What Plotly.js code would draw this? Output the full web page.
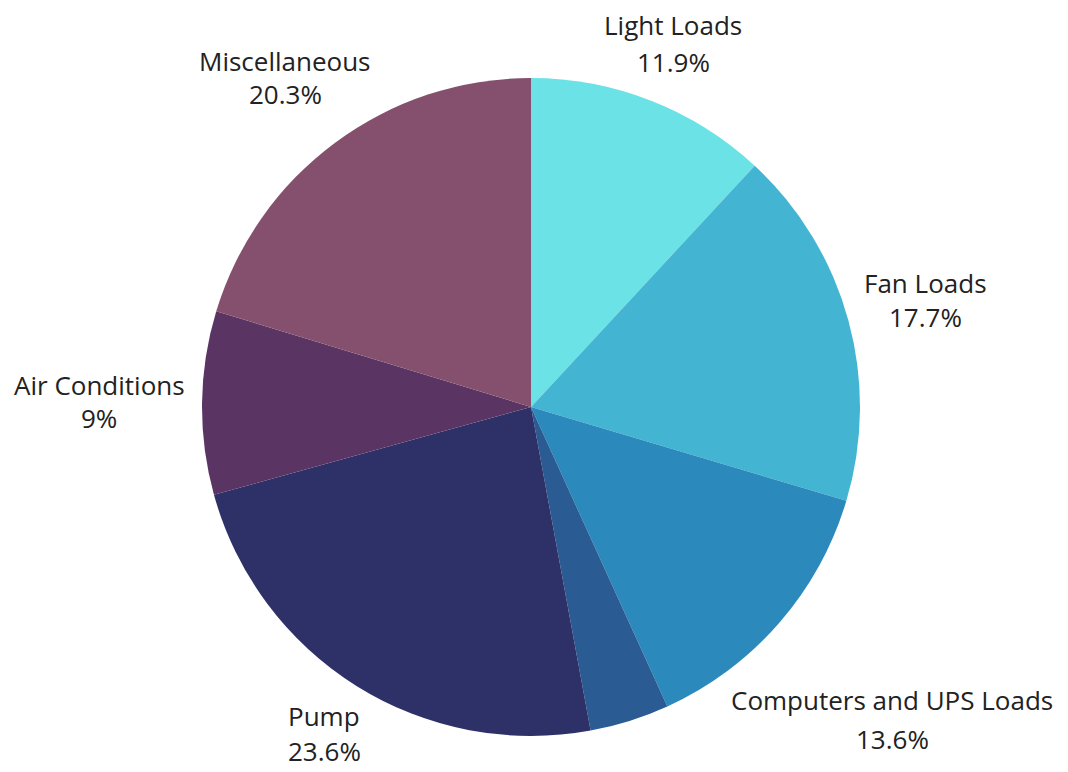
<!DOCTYPE html>
<html>
<head>
<meta charset="utf-8">
<script src="https://cdn.plot.ly/plotly-3.0.1.min.js"></script>
<style>html,body{margin:0;padding:0;background:#fff;}#chart{width:1068px;height:772px;}</style>
</head>
<body>
<div id="chart"></div>
<script>
const categories = ["Light Loads", "Fan Loads", "Computers and UPS Loads", "Other", "Pump", "Air Conditions", "Miscellaneous"];
const values = [11.9, 17.7, 13.6, 3.9, 23.6, 9, 20.3];
const percentLabels = ["11.9%", "17.7%", "13.6%", "", "23.6%", "9%", "20.3%"];
const showLabel = [true, true, true, false, true, true, true];
const colors = ["#6ae2e6", "#43b5d3", "#2b89bb", "#2a5b93", "#2e3168", "#5a3463", "#84506d"];

// label anchor positions in pixels (center x, center y of name line, center y of percent line)
const labelPos = [
  [673, 25, 62],
  [925, 283, 317],
  [892, 700, 739],
  null,
  [324, 716, 751],
  [99, 385, 418],
  [285, 61, 94]
];

const W = 1068, H = 772;
const margin = {l: 0, r: 6, t: 78, b: 36};
const pw = W - margin.l - margin.r, ph = H - margin.t - margin.b;
function px2x(x) { return (x - margin.l) / pw; }
function px2y(y) { return (H - margin.b - y) / ph; }

const font = {family: "Open Sans, Noto Sans, sans-serif", size: 26, color: "#222222"};
const annotations = [];
categories.forEach((c, i) => {
  if (!showLabel[i]) return;
  const p = labelPos[i];
  annotations.push({text: c, x: px2x(p[0]), y: px2y(p[1]), xref: "paper", yref: "paper",
    xanchor: "center", yanchor: "middle", showarrow: false, font: font});
  annotations.push({text: percentLabels[i], x: px2x(p[0]), y: px2y(p[2]), xref: "paper", yref: "paper",
    xanchor: "center", yanchor: "middle", showarrow: false, font: font});
});

Plotly.newPlot("chart", [{
  type: "pie",
  labels: categories,
  values: values,
  sort: false,
  direction: "clockwise",
  rotation: 0,
  textinfo: "none",
  hoverinfo: "label+percent",
  marker: {colors: colors, line: {width: 0}},
  showlegend: false
}], {
  width: W, height: H,
  margin: margin,
  paper_bgcolor: "#ffffff",
  plot_bgcolor: "#ffffff",
  annotations: annotations
}, {displayModeBar: false, staticPlot: true});
</script>
</body>
</html>
